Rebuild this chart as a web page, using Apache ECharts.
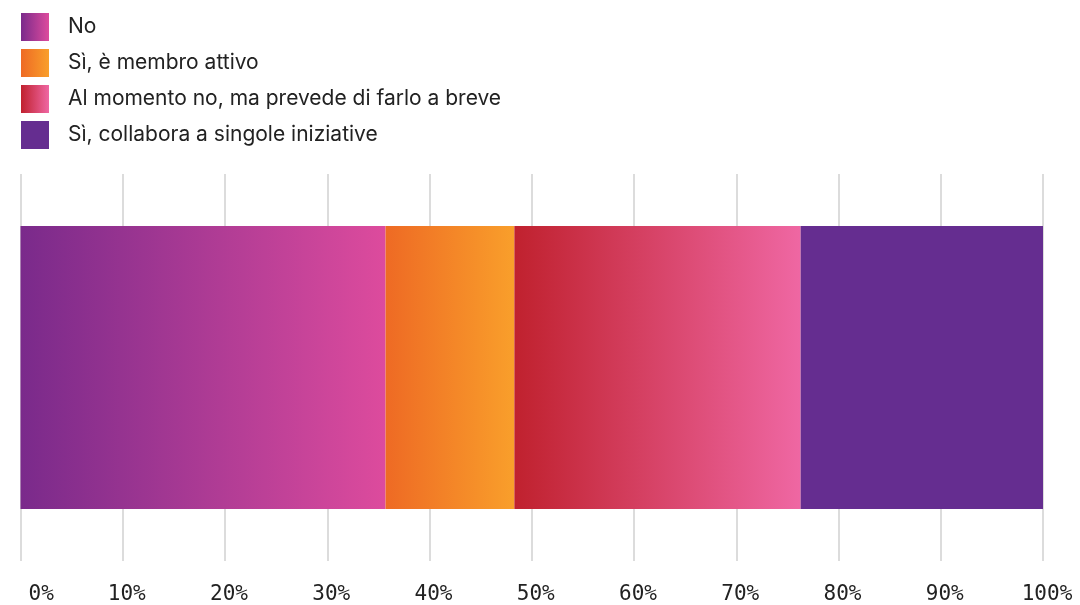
<!DOCTYPE html>
<html><head><meta charset="utf-8">
<script src="https://cdn.jsdelivr.net/npm/echarts@6/dist/echarts.min.js"></script>
<style>html,body{margin:0;padding:0;background:#fff}#c{width:1080px;height:605px}</style>
</head><body><div id="c"></div>
<script>
const categories = ['Risposta'];
const seriesNames = ['No', 'Sì, è membro attivo', 'Al momento no, ma prevede di farlo a breve', 'Sì, collabora a singole iniziative'];
const seriesValues = [[35.7], [12.6], [28.0], [23.7]];
const tickLabels = ['0%','10%','20%','30%','40%','50%','60%','70%','80%','90%','100%'];

const grad = (a, b) => new echarts.graphic.LinearGradient(0, 0, 1, 0, [{offset: 0, color: a}, {offset: 1, color: b}]);
const colors = [
  grad('#7a2a8b', '#dd4b9d'),
  grad('#ee6a24', '#f99f2b'),
  grad('#c0212e', '#ef67a3'),
  '#652d90'
];

const chart = echarts.init(document.getElementById('c'));
chart.setOption({
  animation: false,
  legend: {
    orient: 'vertical', left: 21, top: 13, padding: 0,
    itemWidth: 28, itemHeight: 28, itemGap: 8, icon: 'rect',
    textStyle: {fontFamily: 'Inter', fontSize: 21, color: '#222', padding: [0, 0, 0, 14]},
    data: seriesNames
  },
  grid: {left: 20.5, right: 37, top: 174, bottom: 40},
  xAxis: {
    type: 'value', min: 0, max: 100, interval: 10,
    axisLine: {show: false}, axisTick: {show: false},
    splitLine: {show: true, lineStyle: {color: '#d0d0d0', width: 1.5}},
    axisLabel: {
      margin: 23, fontFamily: 'DejaVu Sans Mono', fontSize: 21, color: '#222',
      padding: [0, 0, 0, 8],
      formatter: v => tickLabels[Math.round(v / 10)], alignMinLabel: 'left'
    }
  },
  yAxis: {type: 'category', data: categories, show: false},
  series: seriesNames.map((n, i) => ({
    name: n, type: 'bar', stack: 'total', barWidth: 283,
    itemStyle: {color: colors[i]},
    data: seriesValues[i]
  }))
});
</script></body></html>
